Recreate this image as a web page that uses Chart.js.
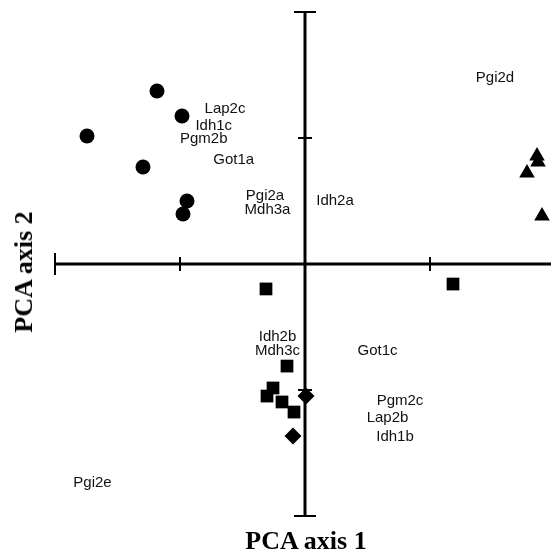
<!DOCTYPE html>
<html>
<head>
<meta charset="utf-8">
<script src="https://cdn.jsdelivr.net/npm/chart.js@4.4.0/dist/chart.umd.min.js"></script>
<style>
  html, body { margin: 0; padding: 0; background: #fff; overflow: hidden; }
  #wrap { position: relative; width: 551px; height: 555px; overflow: hidden; }
  canvas { position: absolute; left: 0; top: 0; width: 570px; height: 555px; }
  .title { position: absolute; font-family: "Liberation Serif", "Times New Roman", serif; font-weight: bold; font-size: 26px; color: #000; white-space: nowrap; }
</style>
</head>
<body>
<div id="wrap">
  <canvas id="c" width="570" height="555" style="width:570px;height:555px"></canvas>
  <div class="title" id="xt" style="left:306px; top:526px; transform: translateX(-50%);">PCA axis 1</div>
  <div class="title" id="yt" style="left:24px; top:272px; transform: translate(-50%,-50%) rotate(-90deg);">PCA axis 2</div>
</div>
<script>
// ---- data (PCA scores) ----
const circleX = [-1.184, -0.984, -1.744, -1.296, -0.944, -0.976];
const circleY = [ 1.373,  1.175,  1.016,  0.770,  0.500,  0.397];

const triangleX = [1.856, 1.864, 1.776, 1.896];
const triangleY = [0.857, 0.810, 0.722, 0.381];

const squareX = [-0.312, 1.184, -0.144, -0.256, -0.304, -0.184, -0.088];
const squareY = [-0.198, -0.159, -0.810, -0.984, -1.048, -1.095, -1.175];

const diamondX = [0.008, -0.096];
const diamondY = [-1.048, -1.365];

const alleleNames = ["Lap2c", "Idh1c", "Pgm2b", "Got1a", "Pgi2a", "Mdh3a", "Idh2a", "Pgi2d",
                     "Idh2b", "Mdh3c", "Got1c", "Pgm2c", "Lap2b", "Idh1b", "Pgi2e"];
const alleleX = [-0.64, -0.73, -0.81, -0.57, -0.32, -0.30, 0.24, 1.52,
                 -0.22, -0.22, 0.58, 0.76, 0.66, 0.72, -1.70];
const alleleY = [1.23, 1.10, 0.99, 0.83, 0.54, 0.43, 0.50, 1.48,
                 -0.58, -0.69, -0.69, -1.09, -1.22, -1.37, -1.74];

const axisTicks = [-2, -1, 0, 1, 2];

function pts(xs, ys) { return xs.map((x, i) => ({ x: x, y: ys[i] })); }

const crossAxes = {
  id: 'crossAxes',
  beforeDatasetsDraw(chart) {
    const ctx = chart.ctx, xs = chart.scales.x, ys = chart.scales.y;
    const x0 = xs.getPixelForValue(0), y0 = ys.getPixelForValue(0);
    const xmin = xs.getPixelForValue(axisTicks[0]), xmax = xs.getPixelForValue(axisTicks[axisTicks.length - 1]);
    const ymax = ys.getPixelForValue(axisTicks[axisTicks.length - 1]), ymin = ys.getPixelForValue(axisTicks[0]);
    ctx.save();
    ctx.strokeStyle = '#000';
    ctx.lineCap = 'butt';
    ctx.lineWidth = 3;
    ctx.beginPath();
    ctx.moveTo(xmin, y0); ctx.lineTo(xmax, y0);
    ctx.moveTo(x0, ymax); ctx.lineTo(x0, ymin);
    ctx.stroke();
    ctx.lineWidth = 2;
    ctx.beginPath();
    axisTicks.forEach(t => {
      if (t === 0) return;
      const end = Math.abs(t) === 2;
      const px = xs.getPixelForValue(t);
      const lx = end ? 11 : 7;
      ctx.moveTo(px, y0 - lx); ctx.lineTo(px, y0 + lx);
      const py = ys.getPixelForValue(t);
      const ly = end ? 11 : 7;
      ctx.moveTo(x0 - ly, py); ctx.lineTo(x0 + ly, py);
    });
    ctx.stroke();
    ctx.restore();
  },
  afterDatasetsDraw(chart) {
    const ctx = chart.ctx, xs = chart.scales.x, ys = chart.scales.y;
    ctx.save();
    ctx.fillStyle = '#111';
    ctx.font = '15px "Liberation Sans", Arial, Helvetica, sans-serif';
    ctx.textAlign = 'center';
    ctx.textBaseline = 'middle';
    alleleNames.forEach((n, i) => {
      ctx.fillText(n, xs.getPixelForValue(alleleX[i]), ys.getPixelForValue(alleleY[i]));
    });
    ctx.restore();
  }
};

new Chart(document.getElementById('c'), {
  type: 'scatter',
  data: {
    datasets: [
      { label: 'circles', data: pts(circleX, circleY), pointStyle: 'circle', pointRadius: 7.5,
        backgroundColor: '#000', borderColor: '#000', borderWidth: 0 },
      { label: 'triangles', data: pts(triangleX, triangleY), pointStyle: 'triangle', pointRadius: 9,
        backgroundColor: '#000', borderColor: '#000', borderWidth: 0 },
      { label: 'squares', data: pts(squareX, squareY), pointStyle: 'rect', pointRadius: 9,
        backgroundColor: '#000', borderColor: '#000', borderWidth: 0 },
      { label: 'diamonds', data: pts(diamondX, diamondY), pointStyle: 'rectRot', pointRadius: 8.5,
        backgroundColor: '#000', borderColor: '#000', borderWidth: 0 }
    ]
  },
  options: {
    responsive: false,
    maintainAspectRatio: false,
    animation: false,
    events: [],
    layout: { padding: { left: 55, right: 15, top: 12, bottom: 39 } },
    plugins: { legend: { display: false }, tooltip: { enabled: false } },
    scales: {
      x: { type: 'linear', min: -2, max: 2, display: false },
      y: { type: 'linear', min: -2, max: 2, display: false }
    },
    clip: false
  },
  plugins: [crossAxes]
});
</script>
</body>
</html>
